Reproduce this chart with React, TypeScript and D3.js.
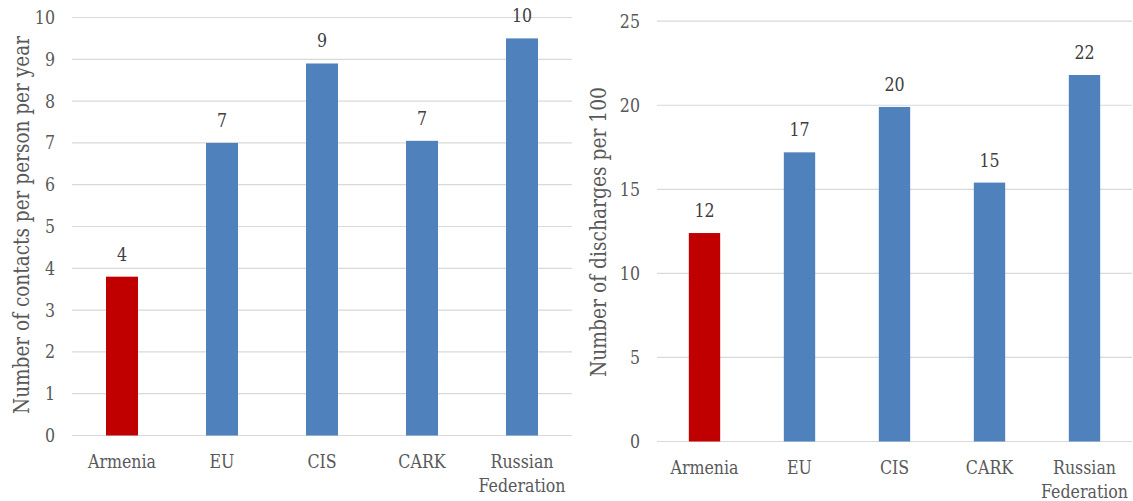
import React from "react";
import * as d3 from "d3";

// Countries / regions compared in both panels
const categories = ["Armenia", "EU", "CIS", "CARK", "Russian Federation"];

// Outpatient contacts per person per year
const contactsValues = [3.8, 7.0, 8.9, 7.05, 9.5];
const contactsTicks = [0, 1, 2, 3, 4, 5, 6, 7, 8, 9, 10];

// Hospital discharges per 100 population
const dischargesValues = [12.4, 17.2, 19.9, 15.4, 21.8];
const dischargesTicks = [0, 5, 10, 15, 20, 25];

const highlight = "Armenia";

const FONT = "DejaVu Serif, serif";
const TEXT = "#595959";
const GRID = "#d9d9d9";
const BLUE = "#4f81bd";
const RED = "#c00000";

// Serif text, narrowed a little horizontally for a Times-like set width
function Label({
  x,
  y,
  anchor,
  fill = TEXT,
  dy,
  children,
}: {
  x: number;
  y: number;
  anchor: "start" | "middle" | "end";
  fill?: string;
  dy?: string;
  children: React.ReactNode;
}) {
  return (
    <g transform={`translate(${x},${y}) scale(0.88,1)`}>
      <text x={0} y={0} dy={dy} textAnchor={anchor} fill={fill} style={{ fontFamily: FONT, fontSize: 18 }}>
        {children}
      </text>
    </g>
  );
}

type PanelProps = {
  values: number[];
  ticks: number[];
  title: string;
  titleLength: number;
  x0: number;
  x1: number;
  yBottom: number;
  yTop: number;
  titleX: number;
  titleY: number;
  padding: number;
};

function splitLabel(label: string): string[] {
  return label === "Russian Federation" ? ["Russian", "Federation"] : [label];
}

function Panel({ values, ticks, title, titleLength, x0, x1, yBottom, yTop, titleX, titleY, padding }: PanelProps) {
  const x = d3
    .scaleBand<string>()
    .domain(categories)
    .range([x0, x1])
    .paddingInner(padding)
    .paddingOuter(padding / 2);
  const y = d3
    .scaleLinear()
    .domain([0, ticks[ticks.length - 1]])
    .range([yBottom, yTop]);
  const fmt = d3.format(".0f");

  return (
    <g>
      {ticks.map((t) => (
        <g key={t}>
          <line x1={x0} x2={x1} y1={y(t)} y2={y(t)} stroke={GRID} strokeWidth={1.2} />
          <Label x={x0 - 17} y={y(t)} dy="0.36em" anchor="end">
            {t}
          </Label>
        </g>
      ))}
      {categories.map((c, i) => {
        const bx = x(c)!;
        const v = values[i];
        const cx = bx + x.bandwidth() / 2;
        return (
          <g key={c}>
            <rect
              x={bx}
              y={y(v)}
              width={x.bandwidth()}
              height={yBottom - y(v)}
              fill={c === highlight ? RED : BLUE}
            />
            <Label x={cx} y={y(v) - 16} anchor="middle" fill="#404040">
              {fmt(v)}
            </Label>
            {splitLabel(c).map((line, j) => (
              <Label key={j} x={cx} y={yBottom + 32 + j * 24} anchor="middle">
                {line}
              </Label>
            ))}
          </g>
        );
      })}
      <text
        transform={`translate(${titleX},${titleY}) rotate(-90)`}
        textAnchor="middle"
        textLength={titleLength}
        lengthAdjust="spacingAndGlyphs"
        style={{ fontFamily: FONT, fontSize: 22 }}
        fill={TEXT}
      >
        {title}
      </text>
    </g>
  );
}

export default function App() {
  return (
    <svg
      width={1133}
      height={501}
      style={{ position: "absolute", left: 0, top: 0, background: "#ffffff" }}
    >
      <Panel
        values={contactsValues}
        ticks={contactsTicks}
        title="Number of contacts per person per year"
        titleLength={378}
        x0={72}
        x1={572}
        yBottom={435.5}
        yTop={17.5}
        titleX={29}
        titleY={225}
        padding={0.68}
      />
      <Panel
        values={dischargesValues}
        ticks={dischargesTicks}
        title="Number of discharges per 100"
        titleLength={290}
        x0={657}
        x1={1132}
        yBottom={441.5}
        yTop={21.2}
        titleX={606}
        titleY={232}
        padding={0.67}
      />
    </svg>
  );
}
